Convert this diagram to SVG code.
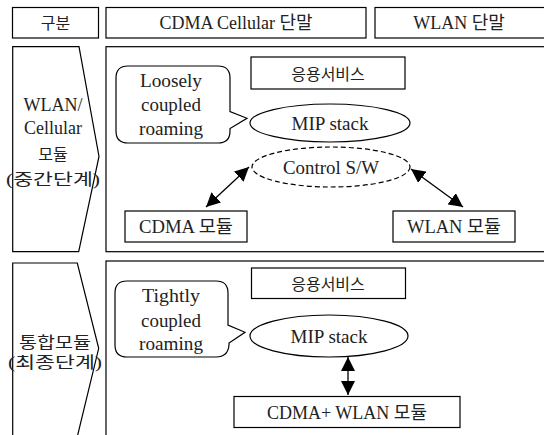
<svg xmlns="http://www.w3.org/2000/svg" width="544" height="435" viewBox="0 0 544 435">
<style>
.b{fill:#fff;stroke:#000;stroke-width:1.2}
.t{font-family:'Liberation Serif','DejaVu Serif',serif;font-size:18px;fill:#222;text-anchor:middle}
.k{font-family:'Liberation Serif','DejaVu Serif','Noto Sans CJK KR',serif;font-size:16px;fill:#222;text-anchor:middle}
.m{font-family:'Liberation Serif','DejaVu Serif','Noto Sans CJK KR',serif;font-size:18px;fill:#222;text-anchor:middle}
.c{fill:none;stroke:#000;stroke-width:1.3}
</style>
<defs>
<marker id="ah" markerUnits="userSpaceOnUse" markerWidth="16" markerHeight="14" refX="14" refY="7" orient="auto-start-reverse">
<path d="M0,0 L14,7 L0,14 Z" fill="#000"/>
</marker>
</defs>
<rect width="544" height="435" fill="#fff"/>
<g id="hdr1"><rect class="b" x="12.5" y="7.5" width="86" height="30.5"/><text class="k" x="55.5" y="29">구분</text></g>
<g id="hdr2"><rect class="b" x="106" y="7.5" width="260" height="30.5"/><text class="m" x="236" y="29">CDMA Cellular 단말</text></g>
<g id="hdr3"><rect class="b" x="375" y="7.5" width="175" height="30.5"/><text class="m" x="459" y="29">WLAN 단말</text></g>

<g id="stage1"><path class="b" d="M12.7,46.7 H79 L99,156.5 L78.7,251.7 H12.7 Z"/>
<text class="t" x="53" y="111">WLAN/</text>
<text class="t" x="53" y="134">Cellular</text>
<text class="k" x="53" y="160">모듈</text>
<text class="k" x="53" y="185" textLength="94" lengthAdjust="spacingAndGlyphs">(중간단계)</text></g>
<g id="panel1"><rect class="b" x="106" y="46.7" width="445" height="205"/></g>
<g id="callout1"><path class="b" d="M128,66 H218 Q230,66 230,78 V111.5 L247,118.3 L230,128.5 V131 Q230,143 218,143 H128 Q116,143 116,131 V78 Q116,66 128,66 Z"/>
<text class="t" x="171" y="86.5" textLength="62" lengthAdjust="spacingAndGlyphs">Loosely</text>
<text class="t" x="171" y="111" textLength="60" lengthAdjust="spacingAndGlyphs">coupled</text>
<text class="t" x="171" y="135" textLength="64" lengthAdjust="spacingAndGlyphs">roaming</text></g>
<g id="app1"><rect class="b" x="251" y="57" width="154" height="32"/><text class="k" x="328" y="79.5">응용서비스</text></g>
<g id="mip1"><ellipse class="b" cx="330" cy="123" rx="80" ry="19"/><text class="t" x="330" y="129.5" textLength="77" lengthAdjust="spacingAndGlyphs">MIP stack</text></g>
<g id="ctrl"><ellipse class="b" cx="331" cy="167" rx="79" ry="20" stroke-dasharray="5,3"/><text class="t" x="331" y="174" textLength="96" lengthAdjust="spacingAndGlyphs">Control S/W</text></g>
<g id="cdma"><rect class="b" x="125" y="211" width="122" height="31"/><text class="m" x="186" y="233" textLength="94" lengthAdjust="spacingAndGlyphs">CDMA 모듈</text></g>
<g id="wlan"><rect class="b" x="393" y="211" width="122" height="31"/><text class="m" x="454" y="233" textLength="94" lengthAdjust="spacingAndGlyphs">WLAN 모듈</text></g>

<g id="stage2"><path class="b" d="M12.7,263 H77.3 L98.7,348.3 L76.5,440 H12.7 Z"/>
<text class="k" x="55" y="348" textLength="72" lengthAdjust="spacingAndGlyphs">통합모듈</text>
<text class="k" x="55" y="368" textLength="94" lengthAdjust="spacingAndGlyphs">(최종단계)</text></g>
<g id="panel2"><rect class="b" x="106" y="261" width="445" height="190"/></g>
<g id="callout2"><path class="b" d="M127,281 H216 Q228,281 228,293 V325 L245,332.3 L229,343 V345 Q228,357 216,357 H127 Q115,357 115,345 V293 Q115,281 127,281 Z"/>
<text class="t" x="171" y="302" textLength="58" lengthAdjust="spacingAndGlyphs">Tightly</text>
<text class="t" x="171" y="326.5" textLength="60" lengthAdjust="spacingAndGlyphs">coupled</text>
<text class="t" x="171" y="350" textLength="64" lengthAdjust="spacingAndGlyphs">roaming</text></g>
<g id="app2"><rect class="b" x="251.5" y="268" width="154" height="30.5"/><text class="k" x="328" y="290">응용서비스</text></g>
<g id="mip2"><ellipse class="b" cx="329" cy="336" rx="79" ry="21"/><text class="t" x="329" y="343" textLength="77" lengthAdjust="spacingAndGlyphs">MIP stack</text></g>
<g id="combo"><rect class="b" x="234" y="396.5" width="226" height="31"/><text class="m" x="347" y="419" textLength="160" lengthAdjust="spacingAndGlyphs">CDMA+ WLAN 모듈</text></g>

<g id="connectors">
<line class="c" x1="249" y1="167" x2="206" y2="207" marker-start="url(#ah)" marker-end="url(#ah)"/>
<line class="c" x1="411" y1="169" x2="463" y2="207" marker-start="url(#ah)" marker-end="url(#ah)"/>
<line class="c" x1="348" y1="357" x2="348" y2="395" marker-start="url(#ah)" marker-end="url(#ah)"/>
</g>
</svg>
